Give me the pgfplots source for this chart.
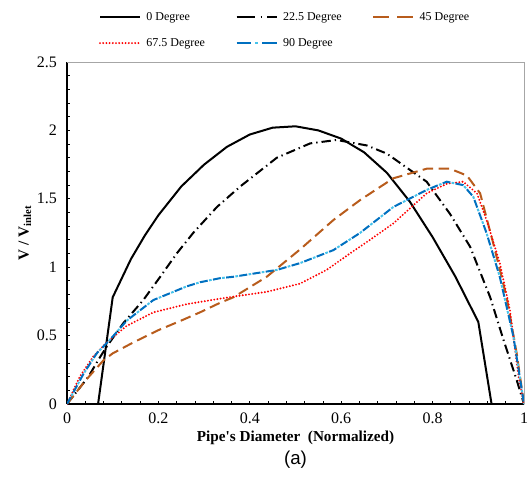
\documentclass[border=0pt]{standalone}
\usepackage{fontspec}
\setmainfont{Liberation Serif}
\newfontfamily\plainserif{Liberation Serif}
\newfontfamily\arialfont{Liberation Sans}
\usepackage{pgfplots}
\pgfplotsset{compat=1.18}

\definecolor{brn}{RGB}{184,92,28}
\definecolor{bl}{RGB}{0,112,192}
\definecolor{cy}{RGB}{70,195,235}

\begin{document}
\begin{tikzpicture}
\useasboundingbox (-50.25pt,-56.25pt) rectangle (347.25pt,303pt);
\begin{axis}[
  scale only axis, width=342.75pt, height=256.5pt,
  xmin=0, xmax=1, ymin=0, ymax=2.5,
  xtick={0,0.2,0.4,0.6,0.8,1}, ytick={0,0.5,1,1.5,2,2.5},
  minor x tick num=4, minor y tick num=4,
  tick align=inside, major tick length=2.5pt, minor tick length=2.5pt,
  axis x line*=bottom, axis y line*=left,
  axis line style={-, black, line width=1pt},
  tick style={black, line width=0.6pt},
  /pgf/number format/assume math mode=true,
  ticklabel style={font=\fontsize{12}{14}\selectfont},
  xticklabel style={yshift=-3pt},
  yticklabel style={xshift=-4pt},
  xlabel={\plainserif\bfseries Pipe's Diameter\ \ (Normalized)},
  xlabel style={at={(axis description cs:0.5,0)}, anchor=center, yshift=-25.5pt, font=\fontsize{11.4}{13}\selectfont},
  ylabel={\textbf{V / V\textsubscript{inlet}}},
  ylabel style={at={(axis description cs:-0.092,0.5)}, anchor=center, font=\fontsize{11.4}{13}\selectfont},
  legend columns=3,
  legend cell align=left,
  legend style={draw=none, fill=none, at={(rel axis cs:0,1)}, anchor=south west,
    xshift=23.75pt, yshift=9.25pt, inner sep=0pt, font=\fontsize{9}{11}\selectfont,
    nodes={inner sep=1pt}, row sep=10pt,
    /tikz/every odd column/.append style={column sep=3pt},
    /tikz/every even column/.append style={column sep=22pt}},
  after end axis/.code={
    \draw[gray!70, line width=0.6pt] (rel axis cs:0,1) -- (rel axis cs:1,1) -- (rel axis cs:1,0);
    \node[font=\arialfont\fontsize{14}{16}\selectfont] at (rel axis cs:0.5,0) [yshift=-42pt] {(a)};
  },
]
\addplot[black, line width=1.5pt,
  legend image code/.code={\draw[black, line width=1.5pt] (0pt,0pt) -- (30pt,0pt);}]
  coordinates {(0,0) (0.068,0) (0.10,0.78) (0.14,1.06) (0.17,1.23) (0.2,1.38) (0.25,1.59)
  (0.3,1.75) (0.35,1.88) (0.4,1.97) (0.45,2.02) (0.5,2.03) (0.55,2.0) (0.6,1.94)
  (0.65,1.84) (0.7,1.69) (0.75,1.48) (0.8,1.22) (0.85,0.93) (0.9,0.6) (0.929,0) (1,0)};
\addlegendentry{0 Degree}
\addplot[black, line width=1.5pt, dash pattern=on 7pt off 3pt on 1pt off 3pt,
  legend image code/.code={\draw[black, line width=1.5pt, dash pattern=on 14pt off 4pt on 1pt off 4pt] (0pt,0pt) -- (30pt,0pt);}]
  coordinates {(0,0) (0.047,0.20) (0.068,0.32) (0.087,0.42) (0.123,0.59) (0.167,0.76)
  (0.204,0.93) (0.24,1.10) (0.276,1.25) (0.328,1.44) (0.379,1.59) (0.459,1.80)
  (0.532,1.905) (0.59,1.93) (0.656,1.89) (0.70,1.83) (0.787,1.625) (0.838,1.39)
  (0.882,1.15) (0.926,0.78) (0.955,0.47) (0.984,0.175) (1,0)};
\addlegendentry{22.5 Degree}
\addplot[brn, line width=1.5pt, dash pattern=on 8pt off 4pt,
  legend image code/.code={\draw[brn, line width=1.5pt, dash pattern=on 12pt off 6pt] (0pt,0pt) -- (30pt,0pt);}]
  coordinates {(0,0) (0.04,0.17) (0.08,0.32) (0.1,0.37) (0.145,0.45) (0.2,0.54) (0.25,0.61)
  (0.291,0.67) (0.335,0.74) (0.364,0.78) (0.437,0.93) (0.51,1.13) (0.583,1.345)
  (0.641,1.49) (0.714,1.65) (0.787,1.72) (0.838,1.72) (0.875,1.67) (0.904,1.54)
  (0.933,1.17) (0.962,0.78) (0.984,0.37) (1,0)};
\addlegendentry{45 Degree}
\addplot[red, line width=1.6pt, line cap=round, dash pattern=on 0pt off 2.4pt,
  legend image code/.code={\draw[red, line width=1.6pt, line cap=round, dash pattern=on 0pt off 2.4pt] (0pt,0pt) -- (30pt,0pt);}]
  coordinates {(0,0) (0.028,0.20) (0.058,0.35) (0.087,0.45) (0.13,0.57) (0.189,0.67)
  (0.262,0.73) (0.335,0.77) (0.364,0.785) (0.437,0.82) (0.51,0.88) (0.568,0.98)
  (0.619,1.10) (0.663,1.20) (0.714,1.32) (0.787,1.54) (0.831,1.61) (0.867,1.625)
  (0.897,1.54) (0.918,1.345) (0.947,1.03) (0.969,0.69) (0.988,0.20) (1,0)};
\addlegendentry{67.5 Degree}
\addplot[cy, line width=1.5pt, dash pattern=on 2pt off 8pt, dash phase=3pt, forget plot]
  coordinates {(0,0) (0.036,0.22) (0.065,0.37) (0.094,0.47) (0.131,0.61) (0.189,0.76)
  (0.262,0.86) (0.291,0.89) (0.335,0.92) (0.364,0.93) (0.459,0.98) (0.51,1.03)
  (0.583,1.125) (0.641,1.25) (0.714,1.44) (0.787,1.565) (0.831,1.625) (0.867,1.60)
  (0.889,1.515) (0.918,1.25) (0.947,0.93) (0.977,0.49) (1,0)};
\addplot[bl, line width=1.5pt, dash pattern=on 6pt off 4pt,
  legend image code/.code={
    \draw[bl, line width=1.5pt, dash pattern=on 11pt off 8pt] (0pt,0pt) -- (30pt,0pt);
    \draw[cy, line width=1.5pt] (14pt,0pt) -- (16pt,0pt);}]
  coordinates {(0,0) (0.036,0.22) (0.065,0.37) (0.094,0.47) (0.131,0.61) (0.189,0.76)
  (0.262,0.86) (0.291,0.89) (0.335,0.92) (0.364,0.93) (0.459,0.98) (0.51,1.03)
  (0.583,1.125) (0.641,1.25) (0.714,1.44) (0.787,1.565) (0.831,1.625) (0.867,1.60)
  (0.889,1.515) (0.918,1.25) (0.947,0.93) (0.977,0.49) (1,0)};
\addlegendentry{90 Degree}
\end{axis}
\end{tikzpicture}
\end{document}
